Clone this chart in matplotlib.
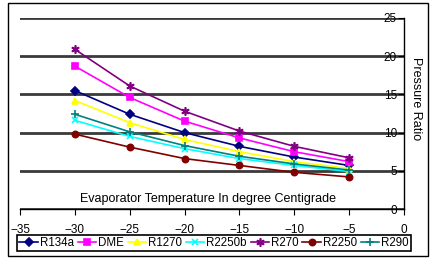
import matplotlib.pyplot as plt
from matplotlib.patches import Rectangle

plt.rcParams['font.family'] = ['Liberation Sans', 'DejaVu Sans']

temps = [-30, -25, -20, -15, -10, -5]
r134a = [15.5, 12.4, 10.0, 8.2, 6.8, 5.7]
dme = [18.7, 14.6, 11.5, 9.3, 7.5, 6.2]
r1270 = [14.2, 11.3, 9.1, 7.5, 6.2, 5.3]
r2250b = [11.6, 9.5, 7.9, 6.6, 5.7, 4.9]
r270 = [20.9, 16.1, 12.8, 10.2, 8.2, 6.7]
r2250 = [9.8, 8.1, 6.6, 5.7, 4.8, 4.2]
r290 = [12.4, 10.1, 8.3, 6.9, 5.9, 5.1]

series = [
    ('R134a', r134a, '#000080', 'D', 4),
    ('DME', dme, '#FF00FF', 's', 5),
    ('R1270', r1270, '#FFFF00', '^', 5),
    ('R2250b', r2250b, '#00FFFF', 'x', 5),
    ('R270', r270, '#800080', (6, 2, 0), 6),
    ('R2250', r2250, '#800000', 'o', 4.5),
    ('R290', r290, '#008080', '+', 6),
]

fig = plt.figure(figsize=(4.33, 2.66), dpi=100)
ax = fig.add_axes([20 / 433, 1 - 209 / 266, 384 / 433, 191 / 266])

for name, vals, col, mk, ms in series:
    ax.plot(temps, vals, color=col, marker=mk, markersize=ms, linewidth=1.2,
            markeredgewidth=1.2, label=name)

ax.set_xlim(-35, 0)
ax.set_ylim(0, 25)
ax.set_xticks(range(-35, 1, 5))
ax.set_yticks(range(0, 26, 5))
ax.yaxis.grid(True, color='#3a3a3a', linewidth=2)
ax.set_axisbelow(True)

ax.spines['top'].set_visible(False)
ax.spines['right'].set_visible(False)
ax.spines['left'].set_position(('data', 0))
ax.spines['left'].set_linewidth(1)
ax.spines['bottom'].set_linewidth(1)
ax.tick_params(axis='x', direction='out', length=4, pad=7, labelsize=8.5)
ax.tick_params(axis='y', direction='out', length=4, pad=1, labelsize=8.5)

ax.text(0.49, 0.05, 'Evaporator Temperature In degree Centigrade',
        transform=ax.transAxes, ha='center', va='center', fontsize=9)
ax.text(1.03, 0.58, 'Pressure Ratio', transform=ax.transAxes, rotation=-90,
        ha='center', va='center', fontsize=9)

leg = fig.legend(loc='center', bbox_to_anchor=(214 / 433, 1 - 243 / 266), ncol=7,
                 fontsize=8.3, handlelength=1.6, handletextpad=0.15, columnspacing=0.35,
                 borderpad=0.2, fancybox=False, edgecolor='black', framealpha=1)
leg.get_frame().set_linewidth(1.2)

fig.patches.append(Rectangle((8 / 433, 1 - 256 / 266), 420 / 433, 253 / 266,
                             transform=fig.transFigure, fill=False,
                             edgecolor='black', linewidth=1))

fig.savefig('out.png', dpi=100)
